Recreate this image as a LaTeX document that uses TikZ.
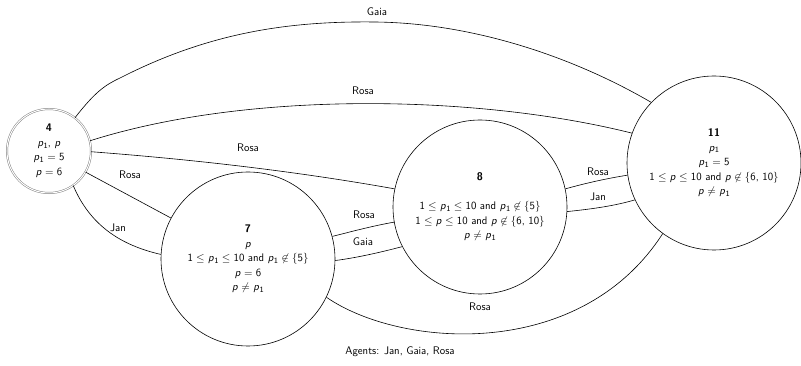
\documentclass[tikz,border=0pt]{standalone}
\newcommand\vp{\textit{p}}
\newcommand\vpo{\textit{p}\kern0.3pt\raisebox{-1.6pt}{\fontsize{8}{8}\selectfont 1}}
\newcommand\rel[1]{\hspace{3.3pt}$#1$\hspace{3.3pt}}
\begin{document}
\begin{tikzpicture}[x=1pt,y=-1pt,
  every node/.style={font=\sffamily\fontsize{11}{14.5}\selectfont},
  state/.style={circle,draw,line width=0.6pt,minimum size=174pt,inner sep=0pt,align=center},
  start/.style={circle,draw=gray,double,double distance=1pt,line width=0.5pt,minimum size=84pt,inner sep=0pt,align=center},
  link/.style={draw,line width=0.6pt},
  lab/.style={inner sep=1pt}]
\useasboundingbox (0,0) rectangle (801,366);
\node[start] (n4) at (49,151) {\textbf{4}\\\vpo, \vp\\\vpo\rel{=}5\\\vp\rel{=}6};
\node[state] (n7) at (248,259) {\textbf{7}\\\vp\\1\rel{\leq}\vpo\rel{\leq}10 and \vpo\rel{\not\in}$\{$5$\}$\\\vp\rel{=}6\\\vp\rel{\neq}\vpo};
\node[state] (n8) at (480,207) {\textbf{8}\\[14.5pt]1\rel{\leq}\vpo\rel{\leq}10 and \vpo\rel{\not\in}$\{$5$\}$\\1\rel{\leq}\vp\rel{\leq}10 and \vp\rel{\not\in}$\{$6, 10$\}$\\\vp\rel{\neq}\vpo};
\node[state] (n11) at (714,163) {\textbf{11}\\\vpo\\\vpo\rel{=}5\\1\rel{\leq}\vp\rel{\leq}10 and \vp\rel{\not\in}$\{$6, 10$\}$\\\vp\rel{\neq}\vpo};
% edges
\draw[link] (n4.52) .. controls (95,92) and (105,85) .. (120,78) .. controls (210,32) and (290,21) .. (375,22) .. controls (470,23) and (570,55) .. (n11.136);
\draw[link] (n4.14) .. controls (250,90) and (480,95) .. (n11.160);
\draw[link] (n4.-1) .. controls (200,160) and (300,172) .. (n8.168);
\draw[link] (n4.-30) -- (n7.152);
\draw[link] (n4.-55) .. controls (90,225) and (120,245) .. (n7.177);
\draw[link] (n7.15) .. controls (350,232) and (372,226) .. (n8.190);
\draw[link] (n7.-1) .. controls (355,258) and (378,253) .. (n8.207);
\draw[link] (n7.-26) .. controls (400,348) and (580,362) .. (n11.234);
\draw[link] (n8.12) .. controls (590,182) and (610,178) .. (n11.188);
\draw[link] (n8.-3) .. controls (592,209) and (614,206) .. (n11.205);
% labels
\node[lab] (lg1) at (377,12) {Gaia};
\node[lab] (lr1) at (363,91) {Rosa};
\node[lab] (lr2) at (248,148) {Rosa};
\node[lab] (lr3) at (130,175) {Rosa};
\node[lab] (lj1) at (118,228) {Jan};
\node[lab] (lr4) at (364,215) {Rosa};
\node[lab] (lg2) at (363,242) {Gaia};
\node[lab] (lr5) at (480,307) {Rosa};
\node[lab] (lr6) at (598,172) {Rosa};
\node[lab] (lj2) at (598,197) {Jan};
\node[lab] (ag) at (400,352) {Agents: Jan, Gaia, Rosa};
\end{tikzpicture}
\end{document}
